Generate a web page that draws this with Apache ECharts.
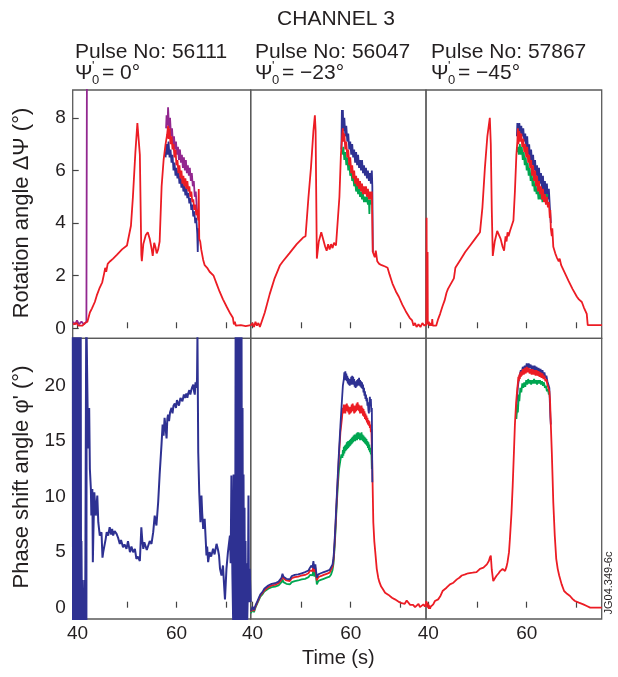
<!DOCTYPE html>
<html lang="en">
<head>
    <meta charset="UTF-8">
    <title>Channel 3 - rotation and phase shift angles</title>
    <script src="https://cdn.jsdelivr.net/npm/echarts@6/dist/echarts.min.js"></script>
    <style>
        html, body, #chart {
            width: 618px;
            height: 677px;
            padding: 0;
            margin: 0;
            background: #fff;
        }
    </style>
</head>
<body>
<div id="chart"></div>
<script>
    // ---- data: [time (s), angle (deg)] ----
    var pulses = ["56111", "56047", "57867"];
    var psiAngles = ["0", "\u221223", "\u221245"];
    var timeTicks = [40, 50, 60, 70];
    var timeLabels = [40, 60];
    var rotTicks = [0, 2, 4, 6, 8];
    var phaseTicks = [0, 5, 10, 15, 20];

    // top row, pulse 56111
    var rot56111Red = [[39.1,0.15],[39.5,0.1],[39.8,0.2],[40.2,0.1],[40.6,0.15],[41,0.1],[41.5,0.2],[42,0.25],[42.5,0.6],[42.9,0.75],[43.5,1.0],[43.9,1.25],[44.5,1.55],[45,1.75],[45.4,2.1],[45.6,2.3],[45.8,2.15],[46.1,2.45],[46.6,2.55],[47.2,2.65],[48,2.8],[49,3.0],[50,3.15],[50.4,3.2],[50.8,3.9],[51.2,5.0],[51.7,6.7],[52.1,7.8],[52.3,7.85],[52.6,6.6],[52.9,2.8],[53.0,2.55],[53.3,3.2],[53.8,3.55],[54.2,3.65],[54.6,3.4],[55.0,3.0],[55.2,2.75],[55.5,3.25],[55.8,3.05],[56.0,2.85],[56.3,3.0],[56.6,3.3],[57.0,5.4],[57.4,6.4],[57.8,7.0],[58.1,7.35],[58.3,7.7],[58.4,7.2],[58.6,7.6],[58.8,7.0],[59.0,7.3],[59.2,6.8],[59.4,7.0],[59.6,6.5],[59.8,6.8],[60.0,6.2],[60.2,6.4],[60.4,5.9],[60.6,6.2],[60.8,5.7],[61.0,6.0],[61.2,5.5],[61.4,5.8],[61.6,5.4],[61.8,5.7],[62.0,5.3],[62.2,5.6],[62.4,5.2],[62.6,5.4],[62.8,5.0],[63.0,5.2],[63.2,4.8],[63.4,4.9],[63.6,4.5],[63.8,4.7],[64.0,4.3],[64.2,4.5],[64.4,4.1],[64.5,5.3],[64.6,3.4],[64.8,3.3],[65.0,3.0],[65.4,2.6],[65.7,2.4],[66.2,2.3],[66.7,2.15],[67.1,2.2],[67.5,2.0],[68.1,1.7],[68.7,1.4],[69.4,1.1],[70.2,0.8],[70.9,0.55],[71.4,0.4],[71.6,0.15],[71.8,0.25],[72.0,0.1],[73,0.12],[74,0.08],[75,0.12]];
    var rot56111Blue = [[57.8,6.5],[58.0,7.0],[58.2,6.6],[58.4,7.1],[58.6,6.5],[58.8,6.8],[59.0,6.3],[59.2,6.6],[59.4,6.0],[59.6,6.3],[59.8,5.8],[60.0,6.1],[60.2,5.7],[60.4,6.0],[60.6,5.5],[60.8,5.8],[61.0,5.35],[61.2,5.65],[61.4,5.2],[61.6,5.45],[61.8,5.05],[62.0,5.35],[62.2,4.95],[62.4,5.15],[62.6,4.75],[62.8,4.95],[63.0,4.5],[63.2,4.7],[63.4,4.25],[63.6,4.45],[63.8,4.0],[64.0,4.2],[64.2,3.6],[64.3,2.9],[64.4,3.8],[64.5,3.5]];
    var rot56111Purple = [[57.9,7.6],[58.0,8.1],[58.2,7.7],[58.3,8.4],[58.5,7.6],[58.7,8.0],[58.9,7.3],[59.1,7.6],[59.3,7.0],[59.5,7.3],[59.7,6.8],[59.9,7.1],[60.1,6.6],[60.3,6.9],[60.5,6.4],[60.7,6.8],[60.9,6.3],[61.1,6.6],[61.3,6.1],[61.5,6.5],[61.7,6.0],[61.9,6.4],[62.1,5.9],[62.3,6.2],[62.5,5.8],[62.7,6.1],[62.9,5.6],[63.1,5.9],[63.3,5.4],[63.5,5.6],[63.7,5.0],[63.9,5.2],[64.1,4.6],[64.3,4.2]];
    var rot56111PurpleSpike = [[39.1,0.25],[39.5,0.15],[39.9,0.3],[40.3,0.15],[40.8,0.25],[41.3,0.15],[41.8,0.25],[41.9,9.5]];

    // top row, pulse 56047
    var rot56047Red = [[39.7,0.1],[40,0.2],[40.3,0.05],[40.6,0.25],[40.9,0.1],[41.2,0.2],[41.5,0.05],[41.8,0.0],[42.5,0.6],[43.5,1.3],[44.5,1.9],[45.6,2.4],[46.2,2.55],[47.5,2.85],[49,3.2],[50.3,3.45],[50.8,3.5],[51.4,5.0],[51.9,6.1],[52.4,7.5],[52.7,8.1],[52.85,7.5],[53.1,2.65],[53.5,3.3],[54.0,3.65],[54.4,3.6],[54.8,3.1],[55.1,2.95],[55.4,3.2],[55.7,3.0],[56.0,3.2],[56.3,3.05],[56.6,3.25],[57.0,3.15],[57.3,3.2],[57.7,5.0],[58.0,6.6],[58.3,7.4],[58.4,7.6],[58.5,7.1],[58.7,7.4],[58.9,6.8],[59.1,7.1],[59.3,6.5],[59.5,6.8],[59.7,6.2],[59.9,6.5],[60.1,5.9],[60.3,6.2],[60.5,5.7],[60.7,6.0],[60.9,5.5],[61.1,5.8],[61.3,5.4],[61.5,5.7],[61.7,5.3],[61.9,5.6],[62.1,5.2],[62.3,5.5],[62.5,5.1],[62.7,5.4],[62.9,5.1],[63.1,5.4],[63.3,5.0],[63.5,5.3],[63.7,4.9],[63.9,5.2],[64.1,4.9],[64.3,5.2],[64.5,2.9],[64.7,2.85],[64.9,2.7],[65.1,2.95],[65.4,2.55],[65.8,2.45],[66.3,2.4],[67.0,2.35],[67.5,2.3],[67.9,2.05],[68.5,1.7],[69.2,1.4],[69.8,1.2],[70.5,0.9],[71.2,0.65],[72.0,0.4],[72.5,0.3],[72.8,0.1],[73.1,0.2],[73.4,0.05],[73.8,0.15],[74.2,0.05],[74.6,0.2],[75.0,0.1],[75.3,0.15]];
    var rot56047Blue = [[58.1,6.8],[58.2,8.3],[58.3,7.6],[58.4,8.3],[58.5,7.5],[58.7,8.0],[58.9,7.3],[59.1,7.7],[59.3,7.1],[59.5,7.4],[59.7,6.8],[59.9,7.1],[60.1,6.6],[60.3,7.0],[60.5,6.5],[60.7,6.8],[60.9,6.3],[61.1,6.7],[61.3,6.2],[61.5,6.6],[61.7,6.1],[61.9,6.4],[62.1,6.0],[62.3,6.4],[62.5,5.9],[62.7,6.2],[62.9,5.8],[63.1,6.1],[63.3,5.7],[63.5,6.0],[63.7,5.6],[63.9,5.9],[64.1,5.5],[64.3,6.0],[64.4,5.4],[64.5,2.9]];
    var rot56047Green = [[58.3,6.6],[58.5,6.9],[58.7,6.4],[58.9,6.7],[59.1,6.2],[59.3,6.5],[59.5,6.0],[59.7,6.3],[59.9,5.8],[60.1,6.0],[60.3,5.6],[60.5,5.8],[60.7,5.4],[60.9,5.6],[61.1,5.2],[61.3,5.5],[61.5,5.1],[61.7,5.3],[61.9,5.0],[62.1,5.2],[62.3,4.9],[62.5,5.1],[62.7,4.8],[62.9,5.0],[63.1,4.8],[63.3,5.0],[63.5,4.7],[63.7,4.9],[63.8,4.35],[63.9,4.9],[64.1,4.7]];

    // top row, pulse 57867
    var rot57867Red = [[39.55,0.1],[39.6,0.3],[39.65,4.2],[39.7,0.2],[39.8,0.15],[39.85,2.9],[39.9,0.15],[40.1,0.25],[40.3,0.1],[40.5,0.2],[40.7,0.1],[40.8,0.35],[40.9,0.1],[41.6,0.1],[42.0,0.35],[42.4,0.55],[42.9,0.85],[43.3,1.05],[43.7,1.35],[44.0,1.5],[44.6,1.7],[45.2,1.9],[45.5,2.3],[46.5,2.6],[47.5,2.9],[48.5,3.15],[49.5,3.4],[50.5,3.65],[51.0,4.6],[51.5,6.1],[52.0,7.3],[52.5,8.0],[52.7,7.0],[52.9,4.5],[53.1,2.75],[53.5,3.3],[54.0,3.7],[54.3,3.75],[54.7,3.4],[55.1,3.1],[55.4,2.95],[55.7,3.5],[55.9,3.3],[56.1,3.65],[56.3,3.5],[56.6,3.7],[57.0,3.7],[57.3,4.1],[57.6,5.2],[57.9,6.6],[58.1,7.1],[58.2,7.6],[58.3,7.0],[58.5,7.5],[58.7,7.1],[58.9,7.4],[59.1,6.9],[59.3,7.2],[59.5,6.7],[59.7,7.0],[59.9,6.5],[60.1,6.9],[60.3,6.3],[60.5,6.6],[60.7,6.1],[60.9,6.4],[61.1,5.8],[61.3,6.2],[61.5,5.6],[61.7,6.0],[61.9,5.4],[62.1,5.8],[62.3,5.2],[62.5,5.6],[62.7,5.1],[62.9,5.4],[63.1,4.9],[63.3,5.3],[63.5,4.8],[63.7,5.1],[63.9,4.7],[64.1,5.0],[64.3,4.6],[64.5,4.8],[64.7,4.2],[64.8,4.5],[64.9,3.8],[65.0,3.8],[65.1,3.5],[65.2,3.8],[65.4,3.1],[65.8,2.85],[66.1,2.7],[66.5,2.55],[66.7,2.65],[67.0,2.4],[67.5,2.2],[68.0,2.0],[68.5,1.8],[69.3,1.5],[70.2,1.2],[70.6,1.1],[71.2,1.0],[71.6,0.8],[72.2,0.55],[72.4,0.12],[75.3,0.12]];
    var rot57867Blue = [[58.0,7.3],[58.1,7.8],[58.3,7.5],[58.5,7.8],[58.7,7.4],[58.9,7.7],[59.1,7.3],[59.3,7.6],[59.5,7.1],[59.7,7.4],[59.9,6.9],[60.1,7.3],[60.3,6.6],[60.5,7.0],[60.7,6.4],[60.9,6.8],[61.1,6.2],[61.3,6.6],[61.5,6.0],[61.7,6.4],[61.9,5.8],[62.1,6.2],[62.3,5.6],[62.5,6.1],[62.7,5.5],[62.9,5.9],[63.1,5.3],[63.3,5.8],[63.5,5.1],[63.7,5.6],[63.9,5.0],[64.1,5.5],[64.3,4.9],[64.5,5.3],[64.7,4.6],[64.9,4.0]];
    var rot57867Green = [[58.0,6.7],[58.2,6.9],[58.4,6.6],[58.6,7.0],[58.8,6.6],[59.0,6.9],[59.2,6.4],[59.4,6.7],[59.6,6.2],[59.8,6.5],[60.0,6.0],[60.2,6.3],[60.4,5.8],[60.6,6.1],[60.8,5.6],[61.0,5.9],[61.2,5.4],[61.4,5.7],[61.6,5.2],[61.8,5.5],[62.0,5.1],[62.2,5.3],[62.4,4.9],[62.6,5.2],[62.8,4.9],[63.0,5.1],[63.2,4.8],[63.4,5.1],[63.6,4.9],[63.8,5.1],[64.0,4.9],[64.2,5.1]];

    // bottom row, pulse 56111
    var phase56111Blue = [[39.05,24.5],[39.1,-1.1],[39.18,24.5],[39.25,4],[39.3,24.5],[39.38,-1.1],[39.45,20],[39.52,-1.1],[39.6,24.5],[39.68,0.5],[39.75,24.5],[39.83,-1.1],[39.9,22],[39.98,-1.1],[40.05,24.5],[40.13,1.5],[40.2,24.5],[40.28,-1.1],[40.35,13],[40.42,-1.1],[40.5,24.5],[40.58,-1.1],[40.65,24.5],[40.72,0],[40.8,6],[40.9,-1.1],[41.0,2.5],[41.1,-1.1],[41.25,1.5],[41.35,-1.1],[41.45,2.5],[41.55,-1.1],[41.7,-1.1],[41.75,24.5],[41.8,-1.1],[41.85,24.5],[41.95,24.5],[42.15,14.35],[42.36,18.0],[42.5,12.5],[42.7,10.7],[42.8,8.3],[43.0,10.7],[43.1,4.1],[43.2,6.5],[43.4,10.4],[43.7,8.3],[44.0,10.1],[44.2,7.7],[44.5,6.5],[44.85,6.8],[45.05,4.5],[45.2,5.0],[45.5,5.0],[45.7,6.2],[45.9,6.8],[46.2,6.5],[46.5,7.25],[46.8,6.6],[47.0,7.1],[47.2,6.5],[47.5,6.9],[47.9,6.65],[48.2,6.3],[48.55,5.75],[48.8,6.1],[49.2,5.45],[49.5,5.7],[49.9,5.3],[50.2,6.0],[50.6,5.0],[50.9,5.5],[51.25,5.0],[51.6,5.3],[51.9,4.4],[52.2,4.6],[52.6,4.2],[52.9,7.25],[53.1,6.0],[53.3,5.3],[53.5,5.9],[53.8,5.9],[54.0,5.2],[54.3,5.6],[54.6,6.0],[54.95,5.75],[55.3,6.8],[55.6,8.3],[55.95,7.4],[56.3,9.5],[56.6,12.0],[56.97,14.65],[57.2,16.5],[57.4,15.5],[57.6,17.1],[57.8,16.2],[58.0,15.25],[58.15,17.0],[58.3,17.4],[58.5,16.8],[58.7,17.6],[59.0,18.0],[59.2,17.5],[59.4,18.2],[59.66,18.4],[59.9,18.0],[60.1,18.7],[60.3,18.6],[60.5,18.2],[60.8,18.9],[61.0,19.0],[61.2,18.6],[61.5,19.2],[61.7,18.9],[62.0,19.3],[62.2,18.9],[62.36,19.3],[62.6,19.6],[62.8,19.2],[63.0,19.6],[63.2,19.9],[63.4,20.1],[63.55,19.5],[63.7,19.2],[63.85,20.3],[64.0,19.8],[64.15,20.5],[64.24,24.6],[64.4,14],[64.6,10.4],[64.85,7.7],[65.05,10.1],[65.2,8.5],[65.4,7.1],[65.7,8.0],[65.9,6.2],[66.06,4.7],[66.2,5.5],[66.4,4.1],[66.7,5.0],[67.0,4.6],[67.4,5.3],[67.7,4.8],[68.1,5.75],[68.4,5.2],[68.6,4.7],[68.8,3.5],[69.1,2.9],[69.4,3.8],[69.6,2.2],[69.8,0.75],[70.1,3.5],[70.4,5.0],[70.8,6.5],[70.95,4],[71.1,11.9],[71.3,3],[71.45,-1.1],[71.55,12],[71.65,-1.1],[71.75,8],[71.85,-1.1],[71.95,24.5],[72.05,-1.1],[72.15,24.5],[72.25,-1.1],[72.35,24.5],[72.45,2],[72.55,24.5],[72.65,-1.1],[72.75,24.5],[72.85,-1.1],[72.95,24.5],[73.05,0],[73.15,24.5],[73.25,-1.1],[73.35,18],[73.45,-1.1],[73.55,12],[73.65,-1.1],[73.75,9],[73.85,-1.1],[73.95,6],[74.05,-1.1],[74.15,4],[74.3,-1.1],[74.45,2],[74.55,10.1],[74.65,0.5],[74.8,3.5],[75.0,0.5]];

    // bottom row, pulse 56047
    var phase56047Blue = [[39.7,-0.3],[40.0,0.1],[40.3,-0.2],[40.6,0.2],[41.0,0.6],[41.3,0.9],[41.6,1.2],[42.0,1.4],[42.4,1.7],[42.8,1.75],[43.2,2.0],[43.6,1.9],[43.9,2.15],[44.3,2.0],[44.6,2.2],[45.0,2.15],[45.3,2.35],[45.6,2.3],[45.9,2.7],[46.1,3.05],[46.3,2.8],[46.6,2.75],[46.9,2.6],[47.3,2.7],[47.6,2.55],[48.0,2.85],[48.3,2.7],[48.6,2.95],[49.0,2.8],[49.3,3.0],[49.7,2.9],[50.0,3.1],[50.4,3.0],[50.7,3.2],[51.0,3.1],[51.4,3.35],[51.7,3.6],[52.0,3.8],[52.2,3.6],[52.4,4.2],[52.6,3.5],[52.8,3.9],[52.95,3.3],[53.1,2.7],[53.4,3.0],[53.6,2.9],[53.9,3.1],[54.1,3.0],[54.5,3.2],[54.8,3.1],[55.1,3.3],[55.4,3.2],[55.7,3.4],[56.0,3.5],[56.3,3.9],[56.5,4.5],[56.7,5.9],[56.9,7.6],[57.1,9.5],[57.35,11.8],[57.6,14.0],[57.9,16.4],[58.2,18.6],[58.4,20.0],[58.6,20.6],[58.7,21.2],[58.8,20.5],[58.9,21.3],[59.0,20.7],[59.1,21.1],[59.2,20.4],[59.3,20.9],[59.4,20.2],[59.5,20.7],[59.6,20.1],[59.7,20.6],[59.8,20.0],[59.9,20.5],[60.0,20.2],[60.1,20.8],[60.2,20.1],[60.3,20.9],[60.4,20.3],[60.5,20.8],[60.6,20.1],[60.7,20.6],[60.8,19.9],[60.9,20.4],[61.0,19.8],[61.1,20.3],[61.2,19.9],[61.3,20.5],[61.4,20.0],[61.5,20.6],[61.6,20.1],[61.7,20.7],[61.8,20.0],[61.9,20.5],[62.0,19.9],[62.1,20.4],[62.2,19.8],[62.3,20.3],[62.4,19.7],[62.5,20.1],[62.6,19.4],[62.7,19.8],[62.8,19.1],[62.9,19.5],[63.0,18.8],[63.1,19.2],[63.2,18.6],[63.3,18.9],[63.4,18.2],[63.5,18.5],[63.6,17.8],[63.7,17.5],[63.8,18.4],[63.9,19.0],[64.0,18.2],[64.1,18.8],[64.2,17.6],[64.3,18.0],[64.4,11.3]];
    var phase56047Red = [[39.7,-0.35],[40.0,0.0],[40.3,-0.3],[40.6,0.1],[41.0,0.5],[41.3,0.8],[41.6,1.1],[42.0,1.3],[42.4,1.55],[42.8,1.65],[43.2,1.85],[43.6,1.8],[43.9,2.0],[44.3,1.9],[44.6,2.05],[45.0,2.0],[45.3,2.2],[45.6,2.15],[45.9,2.55],[46.1,2.9],[46.3,2.65],[46.6,2.6],[46.9,2.45],[47.3,2.55],[47.6,2.4],[48.0,2.65],[48.3,2.55],[48.6,2.75],[49.0,2.6],[49.3,2.8],[49.7,2.7],[50.0,2.9],[50.4,2.8],[50.7,2.95],[51.0,2.85],[51.4,3.1],[51.7,3.35],[52.0,3.5],[52.2,3.3],[52.4,3.8],[52.6,3.2],[52.8,3.6],[52.95,3.0],[53.1,2.45],[53.4,2.75],[53.6,2.65],[53.9,2.85],[54.1,2.75],[54.5,2.95],[54.8,2.85],[55.1,3.05],[55.4,2.95],[55.7,3.15],[56.0,3.3],[56.3,3.7],[56.5,4.3],[56.7,5.6],[56.9,7.3],[57.1,9.2],[57.35,11.4],[57.6,13.6],[57.9,15.8],[58.2,17.0],[58.4,18.0],[58.5,17.5],[58.6,18.3],[58.7,17.6],[58.8,18.2],[58.9,17.5],[59.0,18.3],[59.1,17.7],[59.2,18.4],[59.3,17.8],[59.4,18.2],[59.5,17.6],[59.6,18.1],[59.7,17.4],[59.8,18.0],[59.9,17.5],[60.0,18.1],[60.1,17.6],[60.2,18.3],[60.3,17.7],[60.4,18.4],[60.5,17.8],[60.6,18.2],[60.7,17.5],[60.8,18.1],[60.9,17.6],[61.0,18.2],[61.1,17.7],[61.2,18.4],[61.3,17.8],[61.4,18.5],[61.5,17.9],[61.6,18.3],[61.7,17.7],[61.8,18.2],[61.9,17.5],[62.0,18.1],[62.1,17.6],[62.2,18.2],[62.3,17.5],[62.4,18.0],[62.5,17.3],[62.6,17.9],[62.7,17.2],[62.8,17.7],[62.9,17.0],[63.0,17.5],[63.1,16.9],[63.2,17.3],[63.3,16.7],[63.4,17.1],[63.5,16.5],[63.6,16.9],[63.7,16.4],[63.8,16.8],[63.9,16.2],[64.0,16.5],[64.1,15.8],[64.2,16.1],[64.3,14.5],[64.4,12.5],[64.6,7.7],[64.8,6.0],[65.0,5.0],[65.3,3.5],[65.6,2.7],[65.85,2.3],[66.2,1.9],[66.5,1.7],[67.0,1.35],[67.3,1.45],[67.7,1.15],[68.0,1.25],[68.4,0.9],[68.7,1.05],[69.0,0.75],[69.3,0.85],[69.7,0.55],[70.0,0.7],[70.4,0.4],[70.7,0.55],[71.0,0.35],[71.4,0.65],[71.8,0.6],[72.1,0.25],[72.4,0.1],[72.7,0.25],[73.1,0.05],[73.4,0.2],[73.8,0.35],[74.1,0.05],[74.5,0.0],[74.8,0.3],[75.1,0.1],[75.3,0.3]];
    var phase56047Green = [[39.7,-0.5],[40.0,-0.15],[40.3,-0.4],[40.6,0.0],[41.0,0.4],[41.3,0.7],[41.6,1.0],[42.0,1.2],[42.4,1.45],[42.8,1.5],[43.2,1.7],[43.6,1.65],[43.9,1.85],[44.3,1.75],[44.6,1.9],[45.0,1.85],[45.3,2.0],[45.6,1.95],[45.9,2.3],[46.1,2.55],[46.3,2.3],[46.6,2.25],[46.9,2.15],[47.3,2.2],[47.6,2.1],[48.0,2.3],[48.3,2.2],[48.6,2.4],[49.0,2.3],[49.3,2.45],[49.7,2.35],[50.0,2.55],[50.4,2.45],[50.7,2.6],[51.0,2.5],[51.4,2.75],[51.7,2.95],[52.0,3.1],[52.2,2.9],[52.4,3.4],[52.6,2.8],[52.8,3.2],[52.95,2.7],[53.1,2.1],[53.4,2.4],[53.6,2.3],[53.9,2.5],[54.1,2.4],[54.5,2.6],[54.8,2.5],[55.1,2.7],[55.4,2.6],[55.7,2.8],[56.0,3.0],[56.3,3.4],[56.5,4.0],[56.7,5.3],[56.9,6.9],[57.1,8.8],[57.35,10.8],[57.6,12.4],[57.9,13.3],[58.1,13.8],[58.3,13.5],[58.4,14.2],[58.5,13.7],[58.6,14.5],[58.7,13.9],[58.8,14.6],[58.9,14.1],[59.0,14.7],[59.1,14.2],[59.2,14.9],[59.3,14.3],[59.4,15.0],[59.5,14.4],[59.6,15.0],[59.7,14.5],[59.8,15.1],[59.9,14.6],[60.0,15.2],[60.1,14.7],[60.2,15.3],[60.3,14.8],[60.4,15.4],[60.5,14.9],[60.6,15.5],[60.7,15.0],[60.8,15.6],[60.9,15.0],[61.0,15.6],[61.1,15.1],[61.2,15.7],[61.3,15.1],[61.4,15.8],[61.5,15.2],[61.6,15.8],[61.7,15.2],[61.8,15.7],[61.9,15.1],[62.0,15.7],[62.1,15.2],[62.2,15.8],[62.3,15.1],[62.4,15.6],[62.5,15.0],[62.6,15.5],[62.7,14.9],[62.8,15.4],[62.9,14.8],[63.0,15.3],[63.1,14.7],[63.2,15.2],[63.3,14.6],[63.4,15.0],[63.5,14.4],[63.6,14.9],[63.7,14.2],[63.8,14.7],[63.9,14.0],[64.0,14.4],[64.1,13.8],[64.2,14.1],[64.3,12.5]];

    // bottom row, pulse 57867
    var phase57867Red = [[39.5,0.3],[39.6,0.6],[39.7,0.1],[39.8,0.45],[39.9,0.0],[40.0,0.35],[40.1,-0.1],[40.2,0.2],[40.35,-0.1],[40.5,0.1],[40.7,0.0],[41.0,0.3],[41.35,0.6],[41.7,0.55],[42.0,0.75],[42.4,1.0],[42.9,1.5],[43.3,1.6],[43.7,1.8],[44.4,2.1],[45.1,2.25],[45.8,2.55],[46.3,2.7],[46.8,2.9],[47.5,3.0],[48.1,3.1],[49.0,3.15],[49.8,3.2],[50.5,3.5],[51.2,3.6],[51.9,3.9],[52.3,4.2],[52.5,4.5],[52.7,4.7],[52.9,3.4],[53.2,2.4],[53.6,2.7],[53.9,2.9],[54.3,3.1],[54.6,3.3],[55.1,3.5],[55.4,3.35],[55.6,3.3],[55.9,3.7],[56.1,4.1],[56.4,5.0],[56.6,6.3],[56.9,8.5],[57.15,11.0],[57.4,14.0],[57.6,16.5],[57.85,18.5],[58.1,19.8],[58.2,20.2],[58.3,20.8],[58.4,20.4],[58.5,21.0],[58.6,20.6],[58.7,21.2],[58.8,20.8],[58.9,21.3],[59.0,20.9],[59.2,21.5],[59.4,21.0],[59.6,21.6],[59.8,21.1],[60.0,21.7],[60.2,21.2],[60.4,21.6],[60.6,21.1],[60.8,21.5],[61.0,21.0],[61.2,21.5],[61.4,21.0],[61.6,21.4],[61.8,20.9],[62.0,21.4],[62.2,20.9],[62.4,21.3],[62.6,20.8],[62.8,21.2],[63.0,20.7],[63.2,21.1],[63.4,20.6],[63.6,20.9],[63.8,20.4],[64.0,20.6],[64.2,20.1],[64.4,20.2],[64.6,19.5],[64.75,18.6],[64.9,16.5],[65.1,14.0],[65.25,11.8],[65.4,9.5],[65.7,6.5],[66.0,4.4],[66.3,3.5],[66.6,2.9],[67.1,2.1],[67.6,1.5],[68.2,1.25],[68.8,1.05],[69.3,0.8],[69.8,0.6],[70.6,0.45],[71.5,0.3],[72.2,0.15],[72.9,0.0],[75.25,0.0]];
    var phase57867Blue = [[57.9,17.5],[58.0,18.6],[58.2,19.9],[58.4,20.6],[58.6,21.0],[58.8,21.4],[59.0,21.2],[59.2,21.7],[59.4,21.4],[59.6,21.8],[59.8,21.5],[60.0,22.0],[60.2,21.6],[60.4,22.0],[60.6,21.6],[60.8,21.9],[61.0,21.5],[61.2,21.8],[61.4,21.4],[61.6,21.8],[61.8,21.4],[62.0,21.7],[62.2,21.3],[62.4,21.6],[62.6,21.2],[62.8,21.5],[63.0,21.1],[63.2,21.4],[63.4,20.9],[63.6,21.2],[63.8,20.7],[64.0,20.9],[64.2,20.4],[64.4,20.5],[64.6,19.8],[64.8,17.2],[64.9,16.5]];
    var phase57867Green = [[57.9,17.0],[58.1,18.3],[58.2,17.6],[58.4,19.2],[58.5,18.6],[58.7,19.8],[58.9,19.4],[59.1,20.2],[59.3,19.8],[59.5,20.3],[59.7,19.9],[59.9,20.5],[60.1,20.1],[60.3,20.6],[60.5,20.2],[60.7,20.5],[60.9,20.1],[61.1,20.5],[61.3,20.2],[61.5,20.6],[61.7,20.2],[61.9,20.5],[62.1,20.1],[62.3,20.5],[62.5,20.2],[62.7,20.5],[62.9,20.1],[63.1,20.4],[63.3,20.0],[63.5,20.3],[63.7,19.8],[63.9,20.0],[64.1,19.5],[64.3,19.7],[64.5,19.2]];

    // ---- layout ----
    var RED = "#ec1c24", BLUE = "#2e3192", GREEN = "#00a651", PURPLE = "#92278f";
    var FONT = "Liberation Sans, Arial, Helvetica, sans-serif";
    var colLeft = [72.7, 250.7, 426];
    var colWidth = [178, 175.3, 175.7];
    var rowTop = [90, 338.3];
    var rowHeight = [248.3, 280.7];
    var xRange = [[39.03, 75.0], [39.63, 75.33], [39.53, 75.24]];
    var yRange = [[-0.38, 9.06], [-1.02, 24.27]];

    var grids = [], xAxes = [], yAxes = [];
    for (var row = 0; row < 2; row++) {
        for (var col = 0; col < 3; col++) {
            var g = row * 3 + col;
            grids.push({
                left: colLeft[col], top: rowTop[row],
                width: colWidth[col], height: rowHeight[row],
                show: true, borderColor: "#5a5a5a", borderWidth: 1.3,
                backgroundColor: "transparent"
            });
            xAxes.push({
                type: "value", gridIndex: g,
                min: xRange[col][0], max: xRange[col][1],
                axisLine: {show: false},
                splitLine: {show: false},
                axisTick: {
                    show: true, inside: true, length: 6, customValues: timeTicks,
                    lineStyle: {color: "#444", width: 1.2}
                },
                axisLabel: {
                    show: row === 1, customValues: timeLabels, margin: 5,
                    fontSize: 19, color: "#231f20", fontFamily: FONT
                },
                name: (g === 4) ? "Time (s)" : "",
                nameLocation: "middle", nameGap: 29,
                nameTextStyle: {fontSize: 20, color: "#231f20", fontFamily: FONT}
            });
            yAxes.push({
                type: "value", gridIndex: g,
                min: yRange[row][0], max: yRange[row][1],
                axisLine: {show: false},
                splitLine: {show: false},
                axisTick: {
                    show: col === 0, inside: true, length: 6,
                    customValues: row === 0 ? rotTicks : phaseTicks,
                    lineStyle: {color: "#444", width: 1.2}
                },
                axisLabel: {
                    show: col === 0, customValues: row === 0 ? rotTicks : phaseTicks,
                    margin: 7, fontSize: 19, color: "#231f20", fontFamily: FONT
                }
            });
        }
    }

    function trace(g, color, data, width) {
        return {
            type: "line", xAxisIndex: g, yAxisIndex: g, data: data,
            showSymbol: false, silent: true, animation: false,
            lineStyle: {color: color, width: width || 1.8},
            z: 2
        };
    }

    var series = [
        trace(0, PURPLE, rot56111PurpleSpike),
        trace(0, PURPLE, rot56111Purple),
        trace(0, BLUE, rot56111Blue),
        trace(0, RED, rot56111Red),
        trace(1, BLUE, rot56047Blue),
        trace(1, GREEN, rot56047Green),
        trace(1, RED, rot56047Red),
        trace(2, BLUE, rot57867Blue),
        trace(2, GREEN, rot57867Green),
        trace(2, RED, rot57867Red),
        trace(3, BLUE, phase56111Blue, 2),
        trace(4, GREEN, phase56047Green),
        trace(4, RED, phase56047Red),
        trace(4, BLUE, phase56047Blue),
        trace(5, BLUE, phase57867Blue),
        trace(5, GREEN, phase57867Green),
        trace(5, RED, phase57867Red)
    ];

    function txt(x, y, text, size, extra) {
        var el = {
            type: "text", x: x, y: y, silent: true,
            style: {
                text: text, fontSize: size, fontFamily: FONT, fill: "#231f20",
                align: "left", verticalAlign: "middle"
            }
        };
        if (extra) {
            for (var k in extra) el.style[k] = extra[k];
        }
        return el;
    }

    var graphics = [txt(336, 19, "CHANNEL 3", 21, {align: "center"})];
    var headX = [75, 255, 431];
    for (var c = 0; c < 3; c++) {
        var hx = headX[c];
        graphics.push(txt(hx, 52, "Pulse No: " + pulses[c], 21));
        graphics.push(txt(hx, 73, "\u03a8", 21));
        graphics.push(txt(hx + 17, 66, "'", 13));
        graphics.push(txt(hx + 17, 80, "0", 13));
        graphics.push(txt(hx + 27, 73, "= " + psiAngles[c] + "\u00b0", 21));
    }
    var yNames = [["Rotation angle \u0394\u03a8 (\u00b0)", 213], ["Phase shift angle \u03c6' (\u00b0)", 477]];
    for (var n = 0; n < yNames.length; n++) {
        var t = txt(22, yNames[n][1], yNames[n][0], 22, {align: "center"});
        t.rotation = Math.PI / 2;
        graphics.push(t);
    }
    var stamp = txt(609, 583, "JG04.349-6c", 11, {align: "center"});
    stamp.rotation = Math.PI / 2;
    graphics.push(stamp);

    var chart = echarts.init(document.getElementById("chart"));
    chart.setOption({
        animation: false,
        backgroundColor: "#fff",
        grid: grids,
        xAxis: xAxes,
        yAxis: yAxes,
        series: series,
        graphic: graphics
    });
</script>
</body>
</html>
